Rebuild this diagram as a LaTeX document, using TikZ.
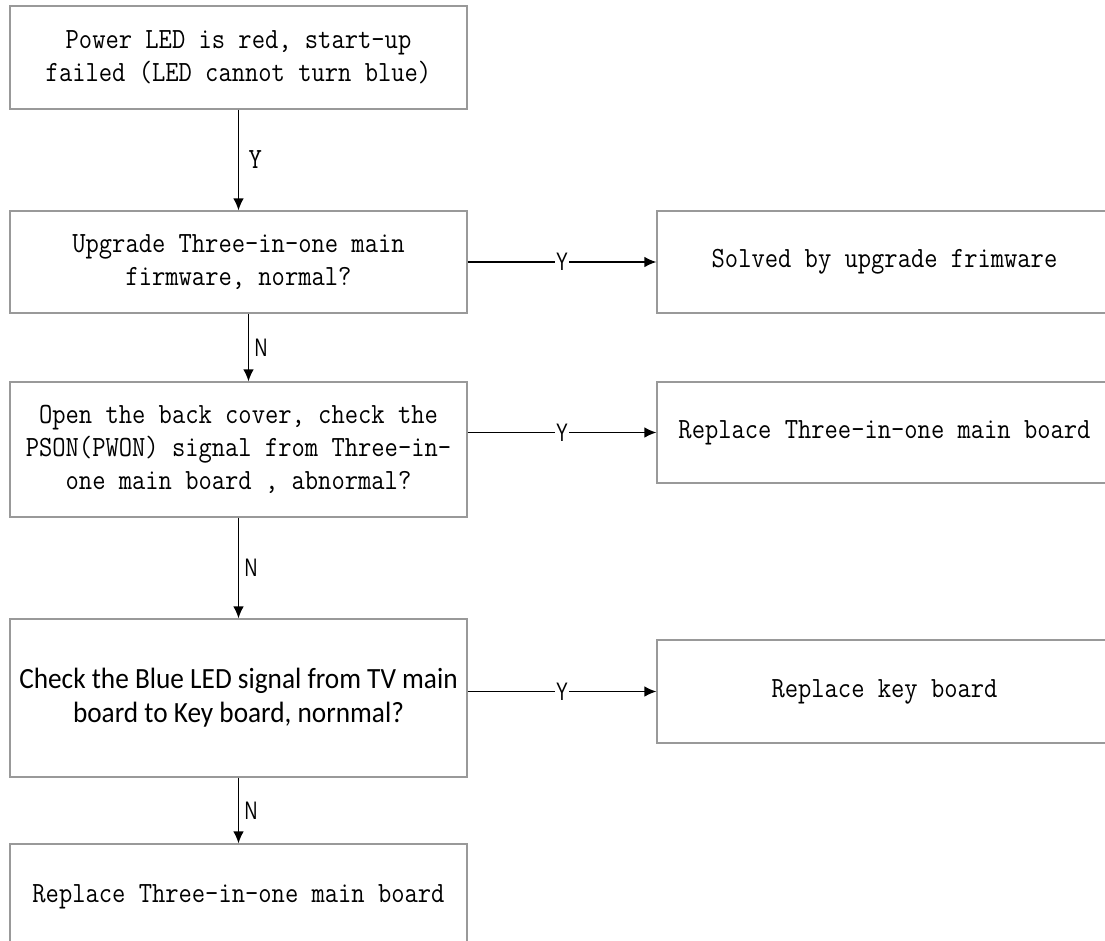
\documentclass[tikz,border=0pt]{standalone}
\usepackage{fontspec}
\usetikzlibrary{arrows.meta,positioning,calc}
\newfontfamily\simfont[FakeStretch=0.88]{Latin Modern Mono}
\newfontfamily\tagfont[FakeStretch=0.7]{Liberation Sans}
\newfontfamily\calfont[FakeStretch=0.93]{Carlito}
\tikzset{
   step box/.style={ rectangle, draw=black!40, line width=1pt, minimum width=342.75pt, text centered, align=center, inner sep=2pt,
                     font=\simfont\fontsize{22}{24.8}\selectfont},
   fix box/.style={ step box, minimum width=341.25pt},
   tag/.style={ font=\tagfont\fontsize{19}{20}\selectfont, inner sep=1pt},
   on line tag/.style={ tag, fill=white, inner sep=0.5pt},
   flow/.style={ ->, line width=1pt},
   >={Latex[length=9pt,width=8pt]}
}
\begin{document}
\begin{tikzpicture}[x=0.75pt,y=-0.75pt]

  \useasboundingbox (0,0) rectangle (1105,940);

  \node[step box, minimum height=77.25pt]  at (238.5,57.5)  (red led)    {Power LED is red, start-up\\failed (LED cannot turn blue)};
  \node[step box, minimum height=76.5pt]   at (238.5,262)   (upgrade)    {Upgrade Three-in-one main\\firmware, normal?};
  \node[step box, minimum height=101.25pt] at (238.5,449.5) (pson)       {Open the back cover, check the\\PSON(PWON) signal from Three-in-\\one main board , abnormal?};
  \node[step box, minimum height=118.5pt, font=\calfont\fontsize{22}{25.5}\selectfont]
                                           at (238.5,698)   (blue led)   {Check the Blue LED signal from TV main\\board to Key board, nornmal?};
  \node[step box, minimum height=79.5pt]   at (238.5,897)   (main board) {Replace Three-in-one main board};

  \node[fix box, minimum height=76.5pt]    at (884.5,262)   (solved)     {Solved by upgrade frimware};
  \node[fix box, minimum height=75.75pt]   at (884.5,432.5) (replace main) {Replace Three-in-one main board};
  \node[fix box, minimum height=77.25pt]   at (884.5,691.5) (replace key)  {Replace key board};

  %%%%%%%%%%%

  \draw[flow] (red led) -- node[right=6pt, tag, font=\simfont\fontsize{22}{24}\selectfont] {Y} (upgrade);
  \draw[flow] ([xshift=7.5pt]upgrade.south) -- node[right=3pt, tag] {N} ([xshift=7.5pt]pson.north);
  \draw[flow] (pson) -- node[right=3pt, tag] {N} (blue led);
  \draw[flow] (blue led) -- node[right=3pt, tag] {N} (main board);

  \draw[flow] (upgrade) -- node[on line tag] {Y} (solved);
  \draw[flow] (replace main.west -| pson.east) -- node[on line tag] {Y} (replace main.west);
  \draw[flow] (replace key.west -| blue led.east) -- node[on line tag] {Y} (replace key.west);

\end{tikzpicture}
\end{document}
